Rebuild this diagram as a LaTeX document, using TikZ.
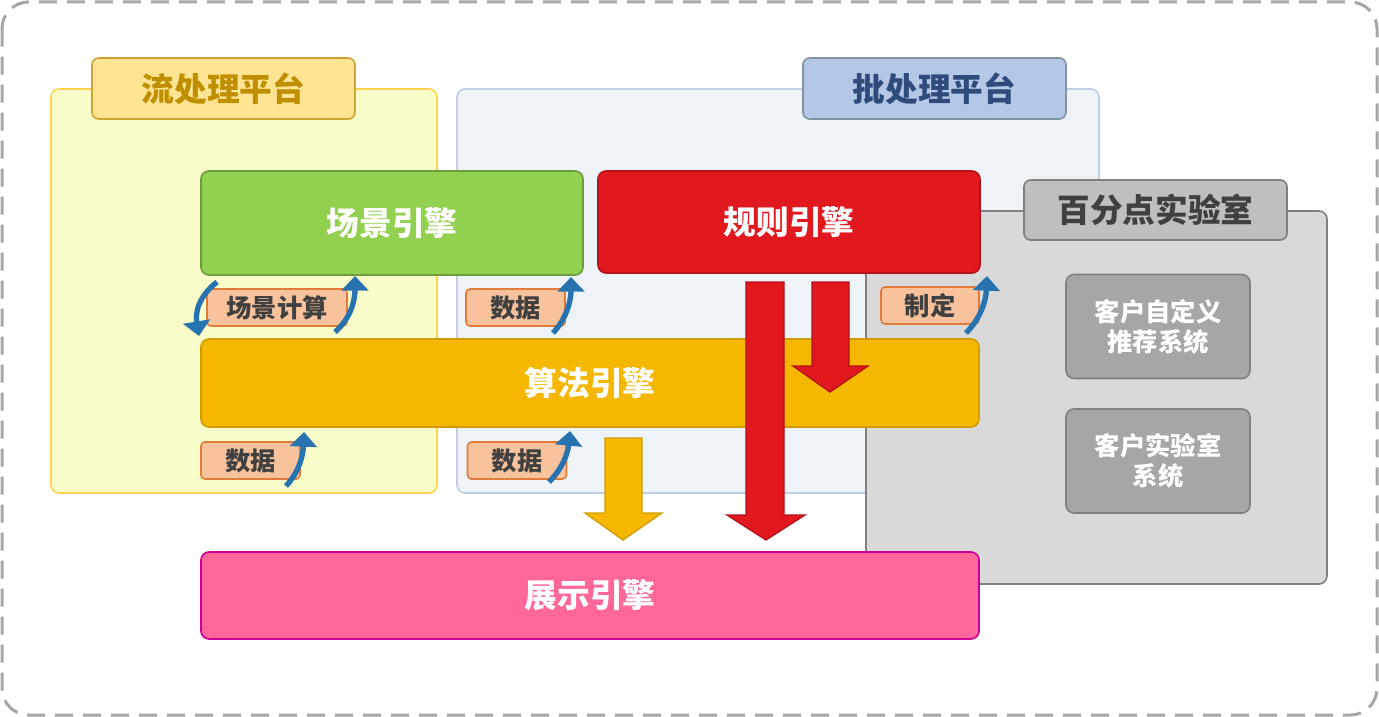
\documentclass[tikz,border=0pt]{standalone}
\usepackage{fontspec}
\newfontfamily\cjk{Noto Sans CJK SC}
\usetikzlibrary{arrows.meta}

\definecolor{streamfill}{HTML}{F8FCC8}
\definecolor{streamline}{HTML}{FFD24D}
\definecolor{streamhead}{HTML}{FFE493}
\definecolor{streamtext}{HTML}{BF8F00}
\definecolor{batchfill}{HTML}{EEF3F8}
\definecolor{batchline}{HTML}{BCCFE5}
\definecolor{batchhead}{HTML}{B4C7E7}
\definecolor{batchtext}{HTML}{2F4B7C}
\definecolor{labfill}{HTML}{D9D9D9}
\definecolor{labhead}{HTML}{BFBFBF}
\definecolor{labsys}{HTML}{A6A6A6}
\definecolor{labline}{HTML}{808080}
\definecolor{darktext}{HTML}{404040}
\definecolor{scenegreen}{HTML}{92D050}
\definecolor{rulered}{HTML}{E2181F}
\definecolor{algoorange}{HTML}{F6B700}
\definecolor{showpink}{HTML}{FF6699}
\definecolor{tagfill}{HTML}{F8C29C}
\definecolor{tagline}{HTML}{E07B39}
\definecolor{curvblue}{HTML}{2673B0}

\tikzset{every picture/.style={line width=0.75pt}}
\tikzset{
  panel/.style={draw, rounded corners=6pt, line width=1.2pt},
  panelhead/.style={draw, rounded corners=5pt, line width=1.2pt, font=\cjk\bfseries\fontsize{24.5}{28}\selectfont,
    minimum width=197.25pt, minimum height=45.75pt, inner sep=0pt},
  engine/.style={draw, rounded corners=6pt, line width=1.2pt, text=white, font=\cjk\bfseries\fontsize{24.5}{28}\selectfont,
    minimum width=286.5pt, minimum height=78pt, inner sep=0pt},
  labsystem/.style={draw=labline, fill=labsys, rounded corners=6pt, line width=1.2pt, text=white, align=center,
    font=\cjk\bfseries\fontsize{19}{22.5}\selectfont, minimum width=138pt, minimum height=78pt, inner sep=0pt},
  tag/.style={draw=tagline, fill=tagfill, rounded corners=3pt, line width=1.2pt, text=darktext,
    font=\cjk\bfseries\fontsize{19}{22}\selectfont, minimum width=74.25pt, minimum height=27.75pt, inner sep=0pt},
  curvarrow/.style={draw=curvblue, line width=4pt, -{Triangle[width=20pt,length=11pt]}},
  blockarrow/.style={line width=1pt, line join=miter},
}

\begin{document}
\begin{tikzpicture}[x=0.75pt,y=0.75pt,yscale=-1,xscale=1]
\useasboundingbox (0,0) rectangle (1379,717);

% outer frame
\draw [draw={rgb,255:red,166;green,166;blue,166}, line width=2.25pt, dash pattern=on 13.5pt off 7.5pt, rounded corners=20pt]
  (2,2) rectangle (1377,715);

% stream platform
\node [panel, draw=streamline, fill=streamfill, minimum width=289.5pt, minimum height=303pt] (stream) at (244,291) {};
\node [panelhead, draw=streamtext!80, fill=streamhead, text=streamtext] (streamtitle) at (223.5,88.5) {流处理平台};

% batch platform
\node [panel, draw=batchline, fill=batchfill, minimum width=481.5pt, minimum height=303pt] (batch) at (778,291) {};
\node [panelhead, draw=batchline!70!black, fill=batchhead, text=batchtext] (batchtitle) at (934.5,88.5) {批处理平台};

% lab
\node [panel, draw=labline, fill=labfill, minimum width=345.75pt, minimum height=279.75pt] (lab) at (1096.5,397.5) {};
\node [panelhead, draw=labline, fill=labhead, text=darktext, minimum height=45pt] (labtitle) at (1155.5,210) {百分点实验室};
\node [labsystem] (custrec) at (1158,326.5) {客户自定义\\推荐系统};
\node [labsystem] (custlab) at (1158,461) {客户实验室\\系统};

% engines
\node [engine, draw=scenegreen!75!black, fill=scenegreen] (scene) at (392,223) {场景引擎};
\node [engine, draw=rulered!80!black, fill=rulered, minimum height=76.5pt] (rule) at (789,222) {规则引擎};
\node [engine, draw=algoorange!85!black, fill=algoorange, minimum width=583.5pt, minimum height=66pt] (algo) at (590,383) {算法引擎};
\node [engine, draw={rgb,255:red,204;green,0;blue,153}, fill=showpink, minimum width=583.5pt, minimum height=65.25pt] (show) at (590,595.5) {展示引擎};

% tags
\node [tag, minimum width=105pt] (scenecalc) at (277,307.5) {场景计算};
\node [tag] (data1) at (515.5,307.5) {数据};
\node [tag, minimum width=73.5pt] (define) at (930,305.5) {制定};
\node [tag] (data2) at (250.5,460.5) {数据};
\node [tag] (data3) at (517,460.5) {数据};

% curved arrows
\draw [curvarrow] (217,282) .. controls (199,296) and (195,312) .. (199,336);
\draw [curvarrow] (335,332) .. controls (351,318) and (355,300) .. (355,276);
\draw [curvarrow] (553,333) .. controls (567,318) and (571,300) .. (571,277);
\draw [curvarrow] (966,333) .. controls (981,318) and (986,300) .. (987,276);
\draw [curvarrow] (286,486) .. controls (299,472) and (303,456) .. (304,432);
\draw [curvarrow] (549,482) .. controls (563,468) and (568,452) .. (570,431);

% block arrows
\draw [blockarrow, draw=rulered!80!black, fill=rulered] (746,282) -- (784,282) -- (784,515) -- (805,515) -- (766,540) -- (727,515) -- (746,515) -- cycle;
\draw [blockarrow, draw=rulered!80!black, fill=rulered] (812,282) -- (849,282) -- (849,366) -- (868,366) -- (830,392) -- (793,366) -- (812,366) -- cycle;
\draw [blockarrow, draw=algoorange!85!black, fill=algoorange] (605,438) -- (642,438) -- (642,513) -- (662,513) -- (623,540) -- (585,513) -- (605,513) -- cycle;

\end{tikzpicture}
\end{document}
